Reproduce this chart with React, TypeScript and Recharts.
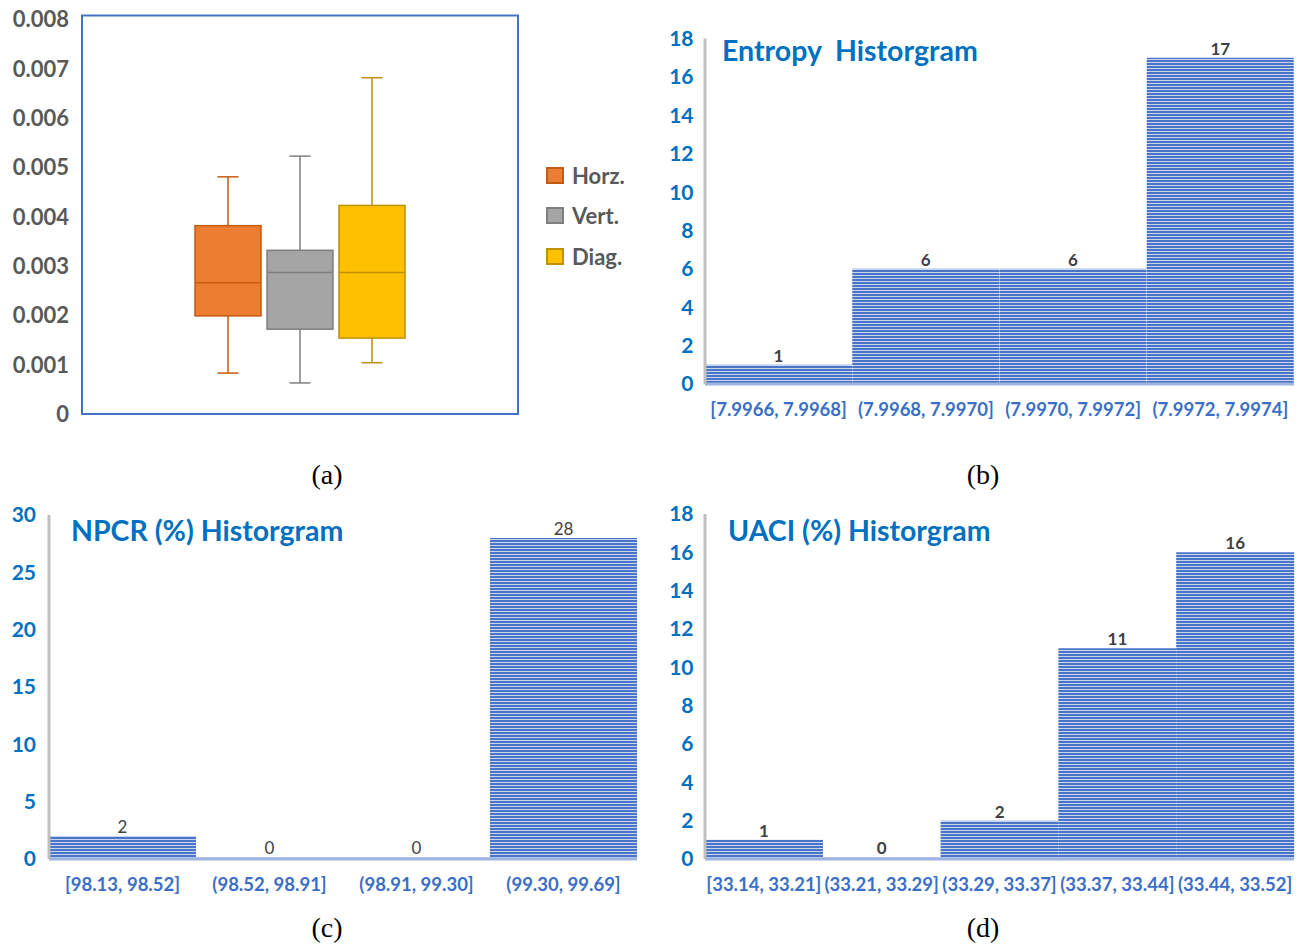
import React from "react";
import { BarChart, Bar, XAxis, YAxis, Legend, ReferenceArea, LabelList } from "recharts";

// ---------- (a) box plot data ----------
const boxSeries = ["Horz.", "Vert.", "Diag."];
const boxMin = [0.00083, 0.00063, 0.00104];
const boxQ1 = [0.00199, 0.00172, 0.00154];
const boxMedian = [0.00266, 0.00287, 0.00287];
const boxQ3 = [0.00382, 0.00332, 0.00423];
const boxMax = [0.00481, 0.00523, 0.00682];
const boxTicks = [0, 0.001, 0.002, 0.003, 0.004, 0.005, 0.006, 0.007, 0.008];

// ---------- (b) entropy histogram ----------
const entropyBins = ["[7.9966, 7.9968]", "(7.9968, 7.9970]", "(7.9970, 7.9972]", "(7.9972, 7.9974]"];
const entropyCounts = [1, 6, 6, 17];
const entropyTicks = [0, 2, 4, 6, 8, 10, 12, 14, 16, 18];

// ---------- (c) NPCR histogram ----------
const npcrBins = ["[98.13, 98.52]", "(98.52, 98.91]", "(98.91, 99.30]", "(99.30, 99.69]"];
const npcrCounts = [2, 0, 0, 28];
const npcrTicks = [0, 5, 10, 15, 20, 25, 30];

// ---------- (d) UACI histogram ----------
const uaciBins = ["[33.14, 33.21]", "(33.21, 33.29]", "(33.29, 33.37]", "(33.37, 33.44]", "(33.44, 33.52]"];
const uaciCounts = [1, 0, 2, 11, 16];
const uaciTicks = [0, 2, 4, 6, 8, 10, 12, 14, 16, 18];

// ---------- styles ----------
const boxFills = ["#ED7D31", "#A5A5A5", "#FFC000"];
const boxStrokes = ["#C55A11", "#7F7F7F", "#BF9000"];
const FONT = "Lato, 'Open Sans', sans-serif";
const BLUE = "#0070C0";

const boxRow: Record<string, any> = { name: "" };
boxSeries.forEach((_, i) => {
  boxRow["s" + i] = [boxMin[i], boxMax[i]];
});
const boxData = [boxRow];

function BoxShape(props: any) {
  const { x, y, width, height, si } = props;
  const lo = boxMin[si];
  const hi = boxMax[si];
  const py = (v: number) => y + ((hi - v) / (hi - lo)) * height;
  const cx = x + width / 2;
  const cap = width * 0.16;
  const stroke = boxStrokes[si];
  const yQ3 = py(boxQ3[si]);
  const yQ1 = py(boxQ1[si]);
  const yMed = py(boxMedian[si]);
  const yMax = py(hi);
  const yMin = py(lo);
  return (
    <g>
      <line x1={cx} x2={cx} y1={yMax} y2={yQ3} stroke={stroke} strokeWidth={1.5} />
      <line x1={cx - cap} x2={cx + cap} y1={yMax} y2={yMax} stroke={stroke} strokeWidth={1.5} />
      <line x1={cx} x2={cx} y1={yQ1} y2={yMin} stroke={stroke} strokeWidth={1.5} />
      <line x1={cx - cap} x2={cx + cap} y1={yMin} y2={yMin} stroke={stroke} strokeWidth={1.5} />
      <rect x={x} y={yQ3} width={width} height={yQ1 - yQ3} fill={boxFills[si]} stroke={stroke} strokeWidth={1.5} />
      <line x1={x} x2={x + width} y1={yMed} y2={yMed} stroke={stroke} strokeWidth={1.5} />
    </g>
  );
}

function BoxLegend(props: any) {
  const payload = [...(props.payload || [])].sort(
    (a: any, b: any) => boxSeries.indexOf(a.value) - boxSeries.indexOf(b.value)
  );
  return (
    <div>
      {payload.map((entry: any, k: number) => {
        const i = boxSeries.indexOf(entry.value);
        return (
          <div key={k} style={{ display: "flex", alignItems: "center", height: 40.5 }}>
            <div
              style={{
                width: 14,
                height: 13,
                background: boxFills[i],
                border: `2px solid ${boxStrokes[i]}`,
              }}
            />
            <span
              style={{
                marginLeft: 8,
                fontFamily: FONT,
                fontWeight: 700,
                fontSize: 22,
                color: "#595959",
              }}
            >
              {entry.value}
            </span>
          </div>
        );
      })}
    </div>
  );
}

function BoxPanel() {
  return (
    <div style={{ position: "absolute", left: 0, top: 0 }}>
      <BarChart
        width={650}
        height={440}
        data={boxData}
        margin={{ top: 15.6, right: 132, left: 10, bottom: 26 }}
        barSize={66}
        barGap={6}
      >
        <XAxis dataKey="name" hide />
        <YAxis
          domain={[0, 0.00808]}
          ticks={boxTicks}
          interval={0}
          width={72}
          axisLine={false}
          tickLine={false}
          tickSize={0}
          tickMargin={13}
          tickFormatter={(v: number) => (v === 0 ? "0" : v.toFixed(3))}
          tick={{ fill: "#595959", fontSize: 22, fontWeight: 700, fontFamily: FONT }}
        />
        <ReferenceArea y1={0} y2={0.00808} fill="none" stroke="#4472C4" strokeWidth={2} ifOverflow="visible" />
        {boxSeries.map((name, i) => (
          <Bar
            key={name}
            dataKey={"s" + i}
            name={name}
            fill={boxFills[i]}
            isAnimationActive={false}
            shape={(p: any) => <BoxShape {...p} si={i} />}
          />
        ))}
        <Legend
          layout="vertical"
          align="center"
          verticalAlign="middle"
          itemSorter={null as any}
          content={(p: any) => <BoxLegend {...p} />}
          wrapperStyle={{ left: 546, top: 154.75, width: 100 }}
        />
      </BarChart>
    </div>
  );
}

function Histogram(props: {
  bins: string[];
  counts: number[];
  ticks: number[];
  left: number;
  top: number;
  width: number;
  height: number;
  margin: { top: number; right: number; left: number; bottom: number };
  yWidth: number;
  yTickMargin: number;
  boldLabels: boolean;
}) {
  const data = props.bins.map((b, i) => ({ bin: b, count: props.counts[i] }));
  const yMax = props.ticks[props.ticks.length - 1];
  return (
    <div style={{ position: "absolute", left: props.left, top: props.top }}>
      <BarChart
        width={props.width}
        height={props.height}
        data={data}
        margin={props.margin}
        barCategoryGap={0}
        barGap={0}
      >
        <XAxis
          dataKey="bin"
          interval={0}
          height={40}
          tickLine={false}
          tickSize={0}
          tickMargin={19}
          axisLine={{ stroke: "#9DB3E0", strokeWidth: 3 }}
          tick={{ fill: "#3B6FC7", fontSize: 18.5, fontWeight: 700, fontFamily: FONT }}
        />
        <YAxis
          domain={[0, yMax]}
          ticks={props.ticks}
          interval={0}
          width={props.yWidth}
          tickLine={false}
          tickSize={0}
          tickMargin={props.yTickMargin}
          axisLine={{ stroke: "#BFBFBF", strokeWidth: 3 }}
          tick={{ fill: BLUE, fontSize: 21, fontWeight: 700, fontFamily: FONT }}
        />
        <Bar dataKey="count" fill="url(#hstripe)" minPointSize={2} isAnimationActive={false}>
          <LabelList
            dataKey="count"
            position="top"
            offset={3}
            fill="#404040"
            fontSize={17}
            fontWeight={props.boldLabels ? 700 : 400}
            fontFamily={FONT}
          />
        </Bar>
      </BarChart>
    </div>
  );
}

export default function App() {
  return (
    <div
      style={{
        position: "absolute",
        left: 0,
        top: 0,
        width: 1306,
        height: 944,
        background: "#ffffff",
        overflow: "hidden",
      }}
    >
      <svg width={0} height={0} style={{ position: "absolute" }}>
        <defs>
          <pattern id="hstripe" patternUnits="userSpaceOnUse" width={8} height={3}>
            <rect width={8} height={3} fill="#4A74C8" />
            <rect y={2} width={8} height={1} fill="#C9D6F0" />
          </pattern>
        </defs>
      </svg>

      <BoxPanel />

      <Histogram
        bins={entropyBins}
        counts={entropyCounts}
        ticks={entropyTicks}
        left={650}
        top={0}
        width={656}
        height={440}
        margin={{ top: 38.5, right: 12, left: 10, bottom: 16 }}
        yWidth={45}
        yTickMargin={11.5}
        boldLabels={true}
      />
      <Histogram
        bins={npcrBins}
        counts={npcrCounts}
        ticks={npcrTicks}
        left={0}
        top={480}
        width={650}
        height={464}
        margin={{ top: 35, right: 13, left: 5, bottom: 45 }}
        yWidth={44}
        yTickMargin={13}
        boldLabels={false}
      />
      <Histogram
        bins={uaciBins}
        counts={uaciCounts}
        ticks={uaciTicks}
        left={650}
        top={480}
        width={656}
        height={464}
        margin={{ top: 34, right: 12, left: 10, bottom: 45 }}
        yWidth={45}
        yTickMargin={11.5}
        boldLabels={true}
      />

      <svg
        width={1306}
        height={944}
        style={{ position: "absolute", left: 0, top: 0, pointerEvents: "none" }}
      >
        <g fontFamily={FONT} fontWeight={700} fontSize={28.5} fill={BLUE}>
          <text x={722} y={61} xmlSpace="preserve" style={{ whiteSpace: "pre" }}>
            {"Entropy  Historgram"}
          </text>
          <text x={71} y={541}>NPCR (%) Historgram</text>
          <text x={728} y={541}>UACI (%) Historgram</text>
        </g>
        <g fontFamily="'Liberation Serif', 'Times New Roman', serif" fontSize={28} fill="#000" textAnchor="middle">
          <text x={327} y={484}>(a)</text>
          <text x={983} y={484}>(b)</text>
          <text x={327} y={937}>(c)</text>
          <text x={983} y={937}>(d)</text>
        </g>
      </svg>
    </div>
  );
}
